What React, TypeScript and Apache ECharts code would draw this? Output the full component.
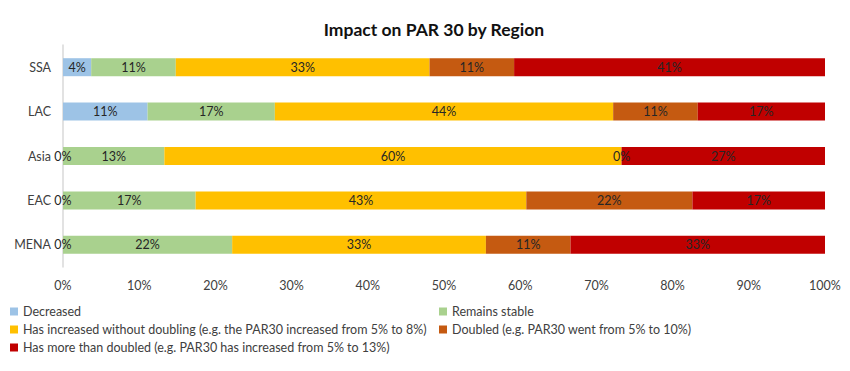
import React, { useEffect, useRef } from "react";
import * as echarts from "echarts";

const categories = ["SSA", "LAC", "Asia", "EAC", "MENA"];
const decreased = [3.7, 11.1, 0, 0, 0];
const remainsStable = [11.1, 16.7, 13.3, 17.4, 22.2];
const increasedNoDoubling = [33.3, 44.4, 60.0, 43.4, 33.3];
const doubled = [11.1, 11.1, 0, 21.8, 11.1];
const moreThanDoubled = [40.8, 16.7, 26.7, 17.4, 33.4];

const seriesNames = [
  "Decreased",
  "Remains stable",
  "Has increased without doubling (e.g. the PAR30 increased from 5% to 8%)",
  "Doubled (e.g. PAR30 went from 5% to 10%)",
  "Has more than doubled (e.g. PAR30 has increased from 5% to 13%)",
];
const seriesData = [decreased, remainsStable, increasedNoDoubling, doubled, moreThanDoubled];
const colors = ["#9DC3E6", "#A9D18E", "#FFC000", "#C55A11", "#C00000"];

const FONT = "Lato, 'DejaVu Sans', sans-serif";

export default function App() {
  const ref = useRef<HTMLDivElement>(null);
  useEffect(() => {
    if (!ref.current) return;
    const chart = echarts.init(ref.current, null, { renderer: "svg" });
    const legendPos = [
      { left: 10, top: 305 },
      { left: 439, top: 305 },
      { left: 10, top: 323 },
      { left: 439, top: 323 },
      { left: 10, top: 341 },
    ];
    chart.setOption({
      animation: false,
      backgroundColor: "#ffffff",
      textStyle: { fontFamily: FONT },
      title: {
        text: "Impact on PAR 30 by Region",
        left: 429,
        textAlign: "center",
        top: 15,
        textStyle: { fontFamily: FONT, fontSize: 17.5, fontWeight: "bold", color: "#111111" },
      },
      legend: seriesNames.map((n, i) => ({
        data: [n],
        left: legendPos[i].left,
        top: legendPos[i].top,
        padding: 0,
        icon: "rect",
        itemWidth: 8,
        itemHeight: 8,
        selectedMode: false,
        textStyle: { fontFamily: FONT, fontSize: 12.5, color: "#404040" },
      })),
      grid: { left: 63, right: 25, top: 45, height: 222, containLabel: false },
      xAxis: {
        type: "value",
        min: 0,
        max: 100,
        interval: 10,
        axisLine: { show: false },
        axisTick: { show: false },
        splitLine: { show: false },
        axisLabel: {
          formatter: "{value}%",
          margin: 12,
          color: "#404040",
          fontSize: 12.5,
          fontFamily: FONT,
        },
      },
      yAxis: {
        type: "category",
        data: categories,
        inverse: true,
        axisLine: { show: true, lineStyle: { color: "#d9d9d9", width: 1.5 } },
        axisTick: { show: false },
        axisLabel: { margin: 12, color: "#404040", fontSize: 12.5, fontFamily: FONT },
      },
      series: seriesNames.map((n, i) => ({
        name: n,
        type: "bar",
        stack: "total",
        barWidth: 18,
        data: seriesData[i],
        itemStyle: { color: colors[i] },
        label: {
          show: true,
          position: "inside",
          formatter: (p: any) => Math.round(p.value) + "%",
          color: "#262626",
          fontSize: 12.5,
          fontFamily: FONT,
        },
      })),
    });
    return () => chart.dispose();
  }, []);
  return (
    <div
      ref={ref}
      style={{ position: "fixed", left: 0, top: 0, width: 850, height: 371 }}
    />
  );
}
